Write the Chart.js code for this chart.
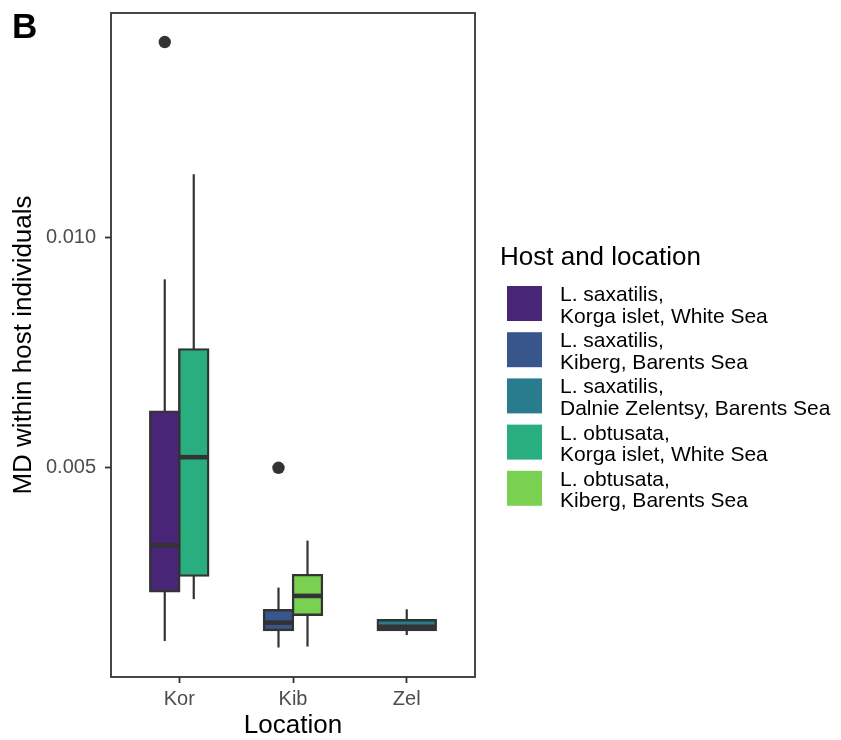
<!DOCTYPE html>
<html>
<head>
<meta charset="utf-8">
<script src="https://cdn.jsdelivr.net/npm/chart.js@4.4.1/dist/chart.umd.min.js"></script>
<style>
  body { margin: 0; background: #fff; }
</style>
</head>
<body>
<canvas id="grafica" width="841" height="740"></canvas>
<script>
const locations = ["Kor", "Kib", "Zel"];
const groupNames = [
  "L. saxatilis,\nKorga islet, White Sea",
  "L. saxatilis,\nKiberg, Barents Sea",
  "L. saxatilis,\nDalnie Zelentsy, Barents Sea",
  "L. obtusata,\nKorga islet, White Sea",
  "L. obtusata,\nKiberg, Barents Sea"
];
const groupLocation = ["Kor", "Kib", "Zel", "Kor", "Kib"];

// resumen de cada caja
const whiskerLow  = [0.00124, 0.00110, 0.00137, 0.00215, 0.00112];
const quartile1   = [0.00232, 0.00148, 0.00148, 0.00266, 0.00181];
const medians     = [0.00332, 0.00164, 0.00155, 0.00523, 0.00222];
const quartile3   = [0.00622, 0.00191, 0.00169, 0.00757, 0.00267];
const whiskerHigh = [0.00909, 0.00240, 0.00193, 0.01137, 0.00342];
const outliers    = [[0.01424], [0.00500], [], [], []];

const yTicks = [0.005, 0.010];
const yMin = 0.00046;
const yMax = 0.01487;

const colores = ["#482576", "#39568C", "#287C8E", "#29AF7F", "#7AD151"];
const legendTitle = "Host and location";
const panelLetter = "B";

const fuente = '"Liberation Sans", Arial, sans-serif';
const gris = "#333333";

function armarDatasets() {
  let arr = [];
  for (let g = 0; g < groupNames.length; g++) {
    arr.push({
      label: groupNames[g],
      data: locations.map(loc => loc === groupLocation[g] ? [quartile1[g], quartile3[g]] : null),
      backgroundColor: colores[g],
      borderColor: gris,
      borderWidth: 2.4,
      borderSkipped: false,
      inflateAmount: 1.2,
      skipNull: true,
      categoryPercentage: 0.51,
      barPercentage: 1
    });
  }
  return arr;
}

function linea(ctx, x1, y1, x2, y2) {
  ctx.beginPath();
  ctx.moveTo(x1, y1);
  ctx.lineTo(x2, y2);
  ctx.stroke();
}

// bigotes, medianas y atipicos sobre las cajas
const extrasCaja = {
  id: "extrasCaja",
  afterDatasetsDraw(chart) {
    const ctx = chart.ctx;
    const y = chart.scales.y;
    for (let g = 0; g < groupNames.length; g++) {
      const meta = chart.getDatasetMeta(g);
      const bar = meta.data[locations.indexOf(groupLocation[g])];
      const x = bar.x;
      const w = bar.width;
      ctx.save();
      ctx.strokeStyle = gris;
      ctx.lineCap = "butt";
      ctx.lineWidth = 2.2;
      linea(ctx, x, y.getPixelForValue(quartile3[g]), x, y.getPixelForValue(whiskerHigh[g]));
      linea(ctx, x, y.getPixelForValue(quartile1[g]), x, y.getPixelForValue(whiskerLow[g]));
      ctx.lineWidth = 4.6;
      const ym = y.getPixelForValue(medians[g]);
      linea(ctx, x - w / 2, ym, x + w / 2, ym);
      ctx.fillStyle = gris;
      for (const v of outliers[g]) {
        ctx.beginPath();
        ctx.arc(x, y.getPixelForValue(v), 6.2, 0, 2 * Math.PI);
        ctx.fill();
      }
      ctx.restore();
    }
  }
};

// borde del panel, letra y leyenda
const marcoYLeyenda = {
  id: "marcoYLeyenda",
  afterDraw(chart) {
    const ctx = chart.ctx;
    const a = chart.chartArea;
    ctx.save();
    ctx.strokeStyle = gris;
    ctx.lineWidth = 1.8;
    ctx.strokeRect(a.left, a.top, a.right - a.left, a.bottom - a.top);

    ctx.fillStyle = "#000";
    ctx.textBaseline = "alphabetic";
    ctx.textAlign = "left";
    ctx.font = "bold 35px " + fuente;
    ctx.fillText(panelLetter, 12, 38);

    ctx.font = "26px " + fuente;
    ctx.fillText(legendTitle, 500, 265);
    ctx.font = "21px " + fuente;
    groupNames.forEach((nombre, g) => {
      const top = 286 + g * 46.2;
      ctx.fillStyle = colores[g];
      ctx.fillRect(507, top, 35, 35);
      const lineas = nombre.split("\n");
      ctx.fillStyle = "#000";
      ctx.fillText(lineas[0], 560, top + 15);
      ctx.fillText(lineas[1], 560, top + 36.5);
    });
    ctx.restore();
  }
};

const ctx = document.getElementById("grafica").getContext("2d");
const myChart = new Chart(ctx, {
  type: "bar",
  data: {
    labels: locations,
    datasets: armarDatasets()
  },
  options: {
    responsive: false,
    animation: false,
    layout: { padding: { left: 0, top: 13, right: 366, bottom: 0 } },
    plugins: {
      legend: { display: false },
      tooltip: { enabled: false }
    },
    scales: {
      x: {
        offset: true,
        afterBuildTicks: (scale) => {
          // expansion discreta de ggplot: 0.6 a cada lado
          scale._startValue = -0.6;
          scale._valueRange = locations.length - 1 + 1.2;
        },
        afterFit: (scale) => {
          scale.height = 63;
          scale.paddingLeft = 0;
          scale.paddingRight = 0;
        },
        grid: {
          display: true, drawOnChartArea: false, drawTicks: true, offset: false,
          tickLength: 6, tickColor: gris, tickWidth: 1.8
        },
        border: { display: false },
        ticks: { color: "#4D4D4D", font: { family: fuente, size: 20 }, padding: 4 },
        title: {
          display: true, text: "Location", color: "#000",
          font: { family: fuente, size: 26, lineHeight: 1 },
          padding: { top: 0, bottom: 1 }
        }
      },
      y: {
        min: yMin,
        max: yMax,
        afterBuildTicks: (scale) => { scale.ticks = yTicks.map(v => ({ value: v })); },
        afterFit: (scale) => {
          scale.width = 111;
          scale.paddingTop = 0;
          scale.paddingBottom = 0;
        },
        grid: {
          display: true, drawOnChartArea: false, drawTicks: true,
          tickLength: 6, tickColor: gris, tickWidth: 1.8
        },
        border: { display: false },
        ticks: {
          color: "#4D4D4D", font: { family: fuente, size: 20 }, padding: 9,
          callback: (v) => Number(v).toFixed(3)
        },
        title: {
          display: true, text: "MD within host individuals", color: "#000",
          font: { family: fuente, size: 26, lineHeight: 1 },
          padding: { top: 11, bottom: 0 }
        }
      }
    }
  },
  plugins: [extrasCaja, marcoYLeyenda]
});
</script>
</body>
</html>
